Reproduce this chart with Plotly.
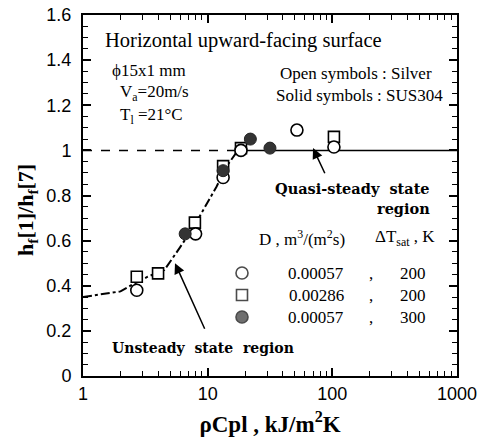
import math
import plotly.graph_objects as go

# ---------------- data ----------------
open_circle_x = [2.7, 8.0, 13.3, 18.5, 52, 103]
open_circle_y = [0.38, 0.63, 0.88, 1.00, 1.09, 1.015]

open_square_x = [2.7, 4.0, 7.9, 13.3, 18.5, 103]
open_square_y = [0.44, 0.455, 0.68, 0.93, 1.01, 1.06]

solid_circle_x = [6.6, 13.3, 22, 31.6]
solid_circle_y = [0.63, 0.91, 1.05, 1.01]

curve_x = [1, 2.0, 2.4, 3.3, 4.5, 5.3, 6.0, 7.7, 11.8, 14.2, 17.5]
curve_y = [0.35, 0.375, 0.40, 0.44, 0.47, 0.53, 0.57, 0.66, 0.84, 0.93, 1.0]

dash_ref_x = [1, 17.5]
dash_ref_y = [1.0, 1.0]
solid_ref_x = [17.5, 1000]
solid_ref_y = [1.0, 1.0]

x_tickvals = [1, 10, 100, 1000]
x_ticktext = ["1", "10", "100", "1000"]
y_tickvals = [0, 0.2, 0.4, 0.6, 0.8, 1.0, 1.2, 1.4, 1.6]
y_ticktext = ["0", "0.2", "0.4", "0.6", "0.8", "1", "1.2", "1.4", "1.6"]

legend_D = ["0.00057", "0.00286", "0.00057"]
legend_dT = ["200", "200", "300"]

# ---------------- layout helpers ----------------
W, H = 489, 438
L, R, T, B = 83, 32, 15, 62
PW, PH = W - L - R, H - T - B


def px(x):
    return (x - L) / PW


def py(y):
    return (H - B - y) / PH


SERIF = "Liberation Serif"
BOLDSERIF = "DejaVu Serif"
SANS = "Liberation Sans"
MS = 12
LW = 1.6

fig = go.Figure()

# reference lines
fig.add_trace(go.Scatter(x=curve_x, y=curve_y, mode="lines",
                         line=dict(color="black", width=2, dash="dashdot"),
                         showlegend=False, hoverinfo="skip"))
fig.add_trace(go.Scatter(x=dash_ref_x, y=dash_ref_y, mode="lines",
                         line=dict(color="black", width=1.5, dash="dash"),
                         showlegend=False, hoverinfo="skip"))
fig.add_trace(go.Scatter(x=solid_ref_x, y=solid_ref_y, mode="lines",
                         line=dict(color="black", width=1.5),
                         showlegend=False, hoverinfo="skip"))

# data
fig.add_trace(go.Scatter(x=open_square_x, y=open_square_y, mode="markers",
                         marker=dict(symbol="square", size=MS - 1, color="white",
                                     line=dict(color="black", width=LW)),
                         showlegend=False))
fig.add_trace(go.Scatter(x=open_circle_x, y=open_circle_y, mode="markers",
                         marker=dict(symbol="circle", size=MS, color="white",
                                     line=dict(color="black", width=LW)),
                         showlegend=False))
fig.add_trace(go.Scatter(x=solid_circle_x, y=solid_circle_y, mode="markers",
                         marker=dict(symbol="circle", size=MS, color="#333333",
                                     line=dict(color="#222222", width=1)),
                         showlegend=False))

# legend key layer (overlay axes in [0,1])
row_y = [273, 295, 317]
fig.add_trace(go.Scatter(x=[px(242)] * 3, y=[py(v) for v in row_y],
                         mode="markers", xaxis="x2", yaxis="y2",
                         marker=dict(symbol=["circle", "square", "circle"],
                                     size=[MS, MS - 1, MS],
                                     color=["white", "white", "#333333"],
                                     line=dict(color="black", width=LW)),
                         showlegend=False, hoverinfo="skip"))

ann = []


def text(x, y, s, size=17, anchor="left", bold=False, family=SERIF):
    if bold:
        s = "<b>" + s + "</b>"
    ann.append(dict(x=px(x), y=py(y), xref="paper", yref="paper", text=s,
                    showarrow=False, xanchor=anchor, yanchor="middle",
                    font=dict(family=family, size=size, color="black")))


text(103, 40, "Horizontal upward-facing surface", size=20.5)
text(110, 70, "ϕ15x1 mm", size=17)
text(118, 93, "V<sub>a</sub>=20m/s", size=17)
text(118, 116, "T<sub>l</sub> =21°C", size=17)
text(278, 73, "Open symbols : Silver", size=17)
text(274, 96, "Solid symbols : SUS304", size=17)
text(432, 188, "Quasi-steady  state", size=14.5, anchor="right", bold=True, family=BOLDSERIF)
text(432, 208, "region", size=14.5, anchor="right", bold=True, family=BOLDSERIF)
text(110, 348, "Unsteady  state  region", size=14, bold=True, family=BOLDSERIF)
text(257, 238, "D , m<sup>3</sup>/(m<sup>2</sup>s)", size=17)
text(373, 238, "ΔT<sub>sat</sub> , K", size=17)
for yy, d, t in zip(row_y, legend_D, legend_dT):
    text(316, yy, d, size=17, anchor="center")
    text(371, yy, ",", size=17, anchor="center")
    text(413, yy, t, size=17, anchor="center")

# y axis title
ann.append(dict(x=px(27), y=py(210), xref="paper", yref="paper",
                text="<b>h<sub>f</sub>[1]/h<sub>f</sub>[7]</b>", textangle=-90,
                showarrow=False, xanchor="center", yanchor="middle",
                font=dict(family=SERIF, size=22, color="black")))

# arrows
ann.append(dict(x=math.log10(5.47), y=0.50, xref="x", yref="y",
                ax=math.log10(10), ay=0.18, axref="x", ayref="y",
                showarrow=True, arrowhead=2, arrowsize=1.4, arrowwidth=1.5,
                arrowcolor="black", text=" "))
ann.append(dict(x=math.log10(70), y=1.01, xref="x", yref="y",
                ax=math.log10(92), ay=0.87, axref="x", ayref="y",
                showarrow=True, arrowhead=2, arrowsize=1.4, arrowwidth=1.5,
                arrowcolor="black", text=" "))

axis_common = dict(showline=True, linewidth=2, linecolor="black", mirror="allticks",
                   ticks="inside", ticklen=8, tickwidth=1.5, tickcolor="black",
                   showgrid=False, zeroline=False, automargin=False,
                   tickfont=dict(family=SANS, size=18, color="black"))

fig.update_layout(
    width=W, height=H,
    margin=dict(l=L, r=R, t=T, b=B),
    paper_bgcolor="white", plot_bgcolor="white",
    showlegend=False,
    xaxis=dict(type="log", range=[0, 3], tickvals=x_tickvals, ticktext=x_ticktext,
               ticklabelstandoff=0,
               minor=dict(ticks="inside", ticklen=5, tickwidth=1.2, tickcolor="black",
                          tickvals=[m * 10 ** e for e in range(3) for m in range(2, 10)]),
               title=dict(text="<b>ρCpl , kJ/m<sup>2</sup>K</b>", standoff=13,
                          font=dict(family=SERIF, size=23, color="black")),
               **axis_common),
    yaxis=dict(range=[0, 1.6], tickvals=y_tickvals, ticktext=y_ticktext,
               ticklabelstandoff=6,
               minor=dict(ticks="inside", ticklen=5, tickwidth=1.2, tickcolor="black",
                          dtick=0.05),
               **axis_common),
    xaxis2=dict(range=[0, 1], overlaying="x", visible=False, fixedrange=True),
    yaxis2=dict(range=[0, 1], overlaying="y", visible=False, fixedrange=True),
    annotations=ann,
)

fig.write_html("out.html")
